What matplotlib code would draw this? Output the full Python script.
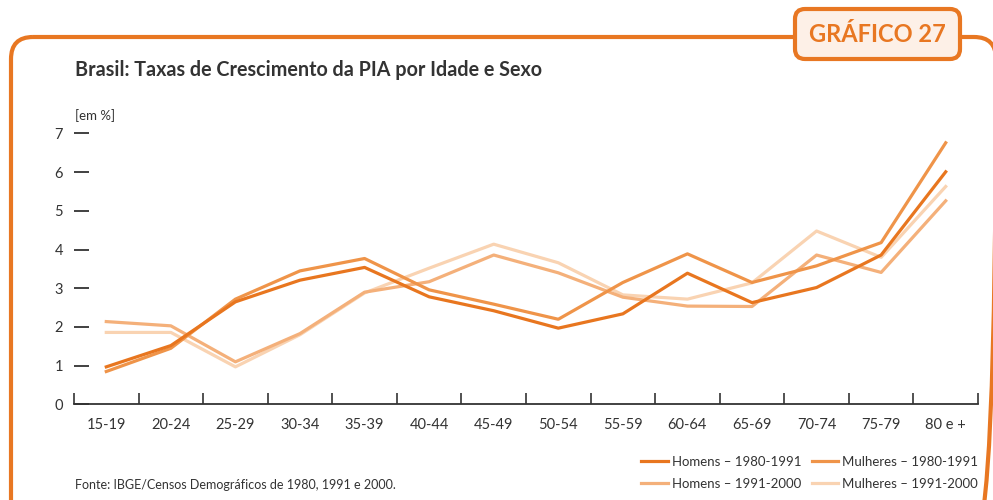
import matplotlib
matplotlib.use("Agg")
import matplotlib.pyplot as plt
from matplotlib.patches import FancyBboxPatch

plt.rcParams['font.family'] = ['Lato', 'DejaVu Sans']

# dados (taxas de crescimento em %)
faixas = ["15-19", "20-24", "25-29", "30-34", "35-39", "40-44", "45-49",
          "50-54", "55-59", "60-64", "65-69", "70-74", "75-79", "80 e +"]
homens_80_91 = [0.97, 1.52, 2.65, 3.21, 3.54, 2.78, 2.42, 1.97, 2.34, 3.39, 2.63, 3.02, 3.86, 6.01]
mulheres_80_91 = [0.85, 1.45, 2.72, 3.45, 3.77, 2.96, 2.59, 2.20, 3.15, 3.89, 3.15, 3.58, 4.18, 6.76]
homens_91_00 = [2.14, 2.03, 1.10, 1.83, 2.90, 3.17, 3.86, 3.40, 2.77, 2.54, 2.53, 3.86, 3.41, 5.26]
mulheres_91_00 = [1.86, 1.86, 0.97, 1.80, 2.88, 3.52, 4.14, 3.66, 2.83, 2.72, 3.14, 4.48, 3.80, 5.63]

laranja = "#E87722"
cores = ["#E8761F", "#EF9449", "#F4B07A", "#F9D3B2"]
cinza = "#333333"

W, H = 993, 500
fig = plt.figure(figsize=(W / 100, H / 100), dpi=100)

# camada de fundo em pixels para a moldura
bg = fig.add_axes([0, 0, 1, 1], zorder=0)
bg.set_xlim(0, W)
bg.set_ylim(H, 0)
bg.axis("off")
bg.add_patch(FancyBboxPatch((11, 37), 985, 500, boxstyle="round,pad=0,rounding_size=22",
                            fill=False, ec=laranja, lw=3, clip_on=False))
bg.add_patch(FancyBboxPatch((795, 9), 165, 50, boxstyle="round,pad=0,rounding_size=10",
                            fc="#FDF0E7", ec=laranja, lw=3))
bg.text(877, 35, "GRÁFICO 27", color=laranja, fontsize=17, fontweight="bold",
        ha="center", va="center")
bg.text(75, 70, "Brasil: Taxas de Crescimento da PIA por Idade e Sexo", color=cinza,
        fontsize=14.2, fontweight="bold", ha="left", va="center")
bg.text(75, 116, "[em %]", color=cinza, fontsize=9.5, ha="left", va="center")
bg.text(75, 485, "Fonte: IBGE/Censos Demográficos de 1980, 1991 e 2000.", color=cinza,
        fontsize=9, ha="left", va="center")

# grafico
x0, x1, yb, yt = 74, 978, 404.4, 120
ax = fig.add_axes([x0 / W, (H - yb) / H, (x1 - x0) / W, (yb - yt) / H], zorder=1)
ax.patch.set_alpha(0)
x = list(range(len(faixas)))
l1, = ax.plot(x, homens_80_91, color=cores[0], lw=2.3, label="Homens – 1980-1991", zorder=5)
l2, = ax.plot(x, mulheres_80_91, color=cores[1], lw=2.3, label="Mulheres – 1980-1991", zorder=4)
l3, = ax.plot(x, homens_91_00, color=cores[2], lw=2.3, label="Homens – 1991-2000", zorder=3)
l4, = ax.plot(x, mulheres_91_00, color=cores[3], lw=2.3, label="Mulheres – 1991-2000", zorder=2)

ax.set_xlim(-0.5, len(faixas) - 0.5)
ax.set_ylim(0, (yb - yt) / 38.7)
ax.set_yticks(range(0, 8))
ax.set_xticks(x)
ax.set_xticklabels(faixas)
ax.set_xticks([i - 0.5 for i in range(len(faixas) + 1)], minor=True)
ax.tick_params(axis="x", which="major", length=0, pad=10, labelsize=10.5, labelcolor=cinza)
ax.tick_params(axis="x", which="minor", direction="in", length=8, width=1.2, color=cinza)
ax.tick_params(axis="y", direction="in", length=11, width=1.3, color=cinza, pad=8,
               labelsize=10.5, labelcolor=cinza)
for s in ["top", "right", "left"]:
    ax.spines[s].set_visible(False)
ax.spines["bottom"].set_color(cinza)
ax.spines["bottom"].set_linewidth(1.3)

fig.legend(handles=[l1, l3, l2, l4], ncol=2, loc="center right",
           bbox_to_anchor=(990 / W, 1 - 473 / H), frameon=False, fontsize=9.5,
           handlelength=2.0, handletextpad=0.3, columnspacing=0.8, labelspacing=0.75,
           labelcolor=cinza)

fig.savefig("out.png", dpi=100)
